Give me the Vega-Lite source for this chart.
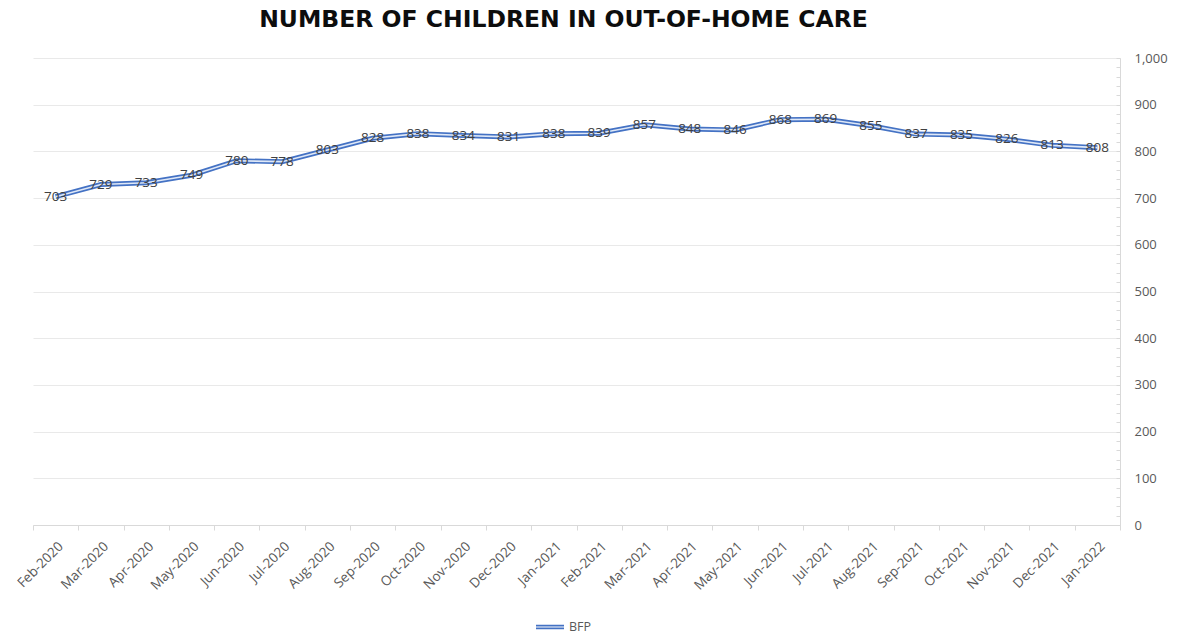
{
  "$schema": "https://vega.github.io/schema/vega-lite/v6.json",
  "autosize": "none",
  "width": 1087,
  "height": 467,
  "padding": {"left": 33, "top": 58, "right": 66, "bottom": 111},
  "background": "white",
  "config": {"view": {"stroke": null}},
  "title": {
    "text": "NUMBER OF CHILDREN IN OUT-OF-HOME CARE",
    "font": "DejaVu Sans",
    "fontSize": 23.5,
    "fontWeight": "bold",
    "color": "#0d0d0d",
    "anchor": "middle",
    "frame": "group",
    "dx": -13,
    "offset": 21
  },
  "data": {
    "values": [
      {"month": "Feb-2020", "value": 703, "series": "BFP"},
      {"month": "Mar-2020", "value": 729, "series": "BFP"},
      {"month": "Apr-2020", "value": 733, "series": "BFP"},
      {"month": "May-2020", "value": 749, "series": "BFP"},
      {"month": "Jun-2020", "value": 780, "series": "BFP"},
      {"month": "Jul-2020", "value": 778, "series": "BFP"},
      {"month": "Aug-2020", "value": 803, "series": "BFP"},
      {"month": "Sep-2020", "value": 828, "series": "BFP"},
      {"month": "Oct-2020", "value": 838, "series": "BFP"},
      {"month": "Nov-2020", "value": 834, "series": "BFP"},
      {"month": "Dec-2020", "value": 831, "series": "BFP"},
      {"month": "Jan-2021", "value": 838, "series": "BFP"},
      {"month": "Feb-2021", "value": 839, "series": "BFP"},
      {"month": "Mar-2021", "value": 857, "series": "BFP"},
      {"month": "Apr-2021", "value": 848, "series": "BFP"},
      {"month": "May-2021", "value": 846, "series": "BFP"},
      {"month": "Jun-2021", "value": 868, "series": "BFP"},
      {"month": "Jul-2021", "value": 869, "series": "BFP"},
      {"month": "Aug-2021", "value": 855, "series": "BFP"},
      {"month": "Sep-2021", "value": 837, "series": "BFP"},
      {"month": "Oct-2021", "value": 835, "series": "BFP"},
      {"month": "Nov-2021", "value": 826, "series": "BFP"},
      {"month": "Dec-2021", "value": 813, "series": "BFP"},
      {"month": "Jan-2022", "value": 808, "series": "BFP"}
    ]
  },
  "encoding": {
    "x": {
      "field": "month",
      "type": "ordinal",
      "sort": null,
      "bandPosition": 0.5,
      "scale": {"type": "band", "paddingInner": 0, "paddingOuter": 0},
      "axis": {
        "title": null,
        "labelAngle": -45,
        "labelFont": "Open Sans",
        "labelFontSize": 13.5,
        "labelColor": "#595959",
        "labelPadding": 9,
        "domainColor": "#d9d9d9",
        "tickColor": "#d9d9d9",
        "tickSize": 5,
        "tickBand": "extent",
        "grid": false
      }
    },
    "y": {
      "field": "value",
      "type": "quantitative",
      "scale": {"domain": [0, 1000], "nice": false},
      "axis": {
        "title": null,
        "orient": "right",
        "values": [0, 20, 40, 60, 80, 100, 120, 140, 160, 180, 200, 220, 240, 260, 280, 300, 320, 340, 360, 380, 400, 420, 440, 460, 480, 500, 520, 540, 560, 580, 600, 620, 640, 660, 680, 700, 720, 740, 760, 780, 800, 820, 840, 860, 880, 900, 920, 940, 960, 980, 1000],
        "labelExpr": "datum.value % 100 === 0 ? format(datum.value, ',') : ''",
        "labelFont": "Open Sans",
        "labelFontSize": 13,
        "labelColor": "#595959",
        "labelAlign": "left",
        "labelPadding": 18,
        "labelOverlap": false,
        "domainColor": "#d9d9d9",
        "tickColor": "#d9d9d9",
        "tickSize": -4,
        "grid": true,
        "gridColor": "#e9e9e9",
        "gridOpacity": {"condition": {"test": "datum.value % 100 === 0", "value": 1}, "value": 0}
      }
    }
  },
  "layer": [
    {
      "mark": {"type": "line", "strokeWidth": 5},
      "encoding": {
        "color": {
          "field": "series",
          "type": "nominal",
          "scale": {"range": ["#4472C4"]},
          "legend": {
            "title": null,
            "orient": "none",
            "legendX": 502,
            "legendY": 554,
            "direction": "horizontal",
            "symbolType": "M-1,-0.1L1,-0.1M-1,0.1L1,0.1",
            "symbolSize": 784,
            "symbolStrokeWidth": 1.8,
            "labelFont": "Open Sans",
            "labelFontSize": 12.5,
            "labelColor": "#595959"
          }
        }
      }
    },
    {
      "mark": {"type": "line", "strokeWidth": 1.6, "color": "#dfe8f7"}
    },
    {
      "mark": {"type": "text", "font": "Open Sans", "fontSize": 13.5, "color": "#404040", "baseline": "middle", "align": "center"},
      "encoding": {"text": {"field": "value", "type": "quantitative"}}
    }
  ]
}
